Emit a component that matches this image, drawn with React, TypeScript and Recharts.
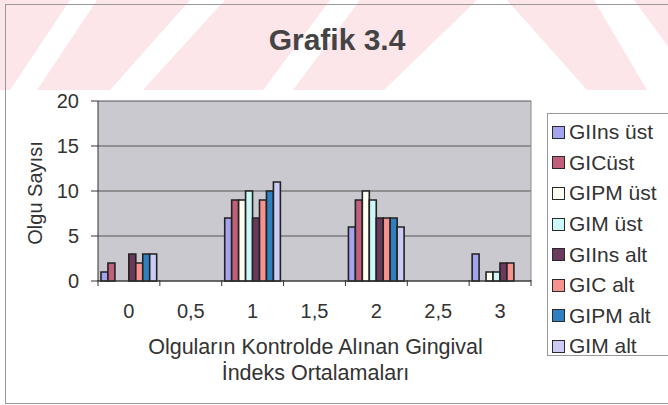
import { BarChart, Bar, XAxis, YAxis, CartesianGrid, Legend, Label, ReferenceLine } from "recharts";

const categories = ["0", "0,5", "1", "1,5", "2", "2,5", "3"];
const seriesNames = ["GIIns üst", "GICüst", "GIPM üst", "GIM üst", "GIIns alt", "GIC alt", "GIPM alt", "GIM alt"];
const giinsUst = [1, 0, 7, 0, 6, 0, 3];
const gicUst = [2, 0, 9, 0, 9, 0, 0];
const gipmUst = [0, 0, 9, 0, 10, 0, 1];
const gimUst = [0, 0, 10, 0, 9, 0, 1];
const giinsAlt = [3, 0, 7, 0, 7, 0, 2];
const gicAlt = [2, 0, 9, 0, 7, 0, 2];
const gipmAlt = [3, 0, 10, 0, 7, 0, 0];
const gimAlt = [3, 0, 11, 0, 6, 0, 0];
const yTicks = [0, 5, 10, 15, 20];
const xTicks = [0, 0.5, 1, 1.5, 2, 2.5, 3, 3.5, 4, 4.5, 5, 5.5, 6, 6.5, 7];

const colors = ["#a3a3ee", "#c0607a", "#fffff2", "#cdf8f8", "#6a3a5c", "#f7928f", "#2f80c0", "#cbcbf5"];
const seriesValues = [giinsUst, gicUst, gipmUst, gimUst, giinsAlt, gicAlt, gipmAlt, gimAlt];

const data = categories.map((label, i) => {
  const row: Record<string, number | string> = { label, pos: i + 0.5 };
  seriesValues.forEach((vals, s) => {
    row["s" + s] = vals[i];
  });
  return row;
});

const FONT = '"Liberation Sans", Arial, sans-serif';
const W = 668;
const H = 405;
const margin = { top: 101, right: 137, bottom: 123, left: 38 };
const plotW = W - margin.left - margin.right;
const barW = plotW / categories.length / seriesNames.length;

// integer positions = category borders (tick marks), half positions = labels
function XTick(props: any) {
  const { x, y, payload } = props;
  const v = payload.value;
  if (Number.isInteger(v)) {
    return <line x1={x} x2={x} y1={y - 1} y2={y + 5} stroke="#333" />;
  }
  return (
    <text x={x} y={y + 37} textAnchor="middle" fontSize={20} fill="#333" fontFamily={FONT}>
      {categories[Math.floor(v)]}
    </text>
  );
}

function XTitle(props: any) {
  const vb = props.viewBox;
  const cx = vb.x + vb.width / 2 + 1;
  return (
    <text x={cx} y={vb.y + 73} textAnchor="middle" fontSize={21.5} fill="#333" fontFamily={FONT}>
      <tspan x={cx}>Olguların Kontrolde Alınan Gingival</tspan>
      <tspan x={cx} dy={26}>İndeks Ortalamaları</tspan>
    </text>
  );
}

function YTitle(props: any) {
  const vb = props.viewBox;
  const cx = vb.x - 3;
  const cy = vb.y + vb.height / 2 + 2;
  return (
    <text
      x={cx}
      y={cy}
      textAnchor="middle"
      dominantBaseline="central"
      fontSize={20}
      fill="#333"
      fontFamily={FONT}
      transform={`rotate(-90, ${cx}, ${cy})`}
    >
      Olgu Sayısı
    </text>
  );
}

function LegendBox() {
  return (
    <div
      style={{
        border: "1px solid #9a9a9a",
        background: "#fff",
        width: 130,
        height: 243,
        boxSizing: "border-box",
        paddingTop: 3,
        fontFamily: FONT,
        fontSize: 21,
        color: "#333",
      }}
    >
      {seriesNames.map((name, i) => (
        <div key={name} style={{ display: "flex", alignItems: "center", height: 30.6, whiteSpace: "nowrap" }}>
          <span
            style={{
              display: "inline-block",
              width: 11,
              height: 11,
              marginLeft: 4,
              marginRight: 4,
              background: colors[i],
              border: "1.5px solid #2a2a2a",
            }}
          />
          {name}
        </div>
      ))}
    </div>
  );
}

export default function App() {
  return (
    <div style={{ position: "absolute", left: 0, top: 0, width: W, height: H, overflow: "hidden", background: "#fff" }}>
      <svg width={W} height={H} style={{ position: "absolute", left: 0, top: 0 }}>
        <rect x={0} y={0} width={W} height={90} fill="#fce6e9" />
        <polygon points="10,90 37,90 97,0 70,0" fill="#fff" />
        <polygon points="110,90 143,90 225,0 190,0" fill="#fff" />
        <polygon points="263,90 293,90 360,0 330,0" fill="#fff" />
        <polygon points="384,90 587,90 507,0 477,0" fill="#fff" />
        <polygon points="647,90 700,90 634,0 594,0" fill="#fff" />
        <line x1={5} y1={4.5} x2={W} y2={4.5} stroke="#999" />
        <line x1={5.5} y1={4} x2={5.5} y2={403} stroke="#999" />
        <line x1={5} y1={403.5} x2={W} y2={403.5} stroke="#999" />
        <text x={337} y={50} textAnchor="middle" fontSize={30} fontWeight="bold" fill="#444" fontFamily={FONT}>
          Grafik 3.4
        </text>
      </svg>
      <div style={{ position: "absolute", left: 0, top: 0 }}>
        <BarChart width={W} height={H} data={data} margin={margin} barGap={0} barCategoryGap={0}>
          <CartesianGrid vertical={false} fill="#c9c9cf" stroke="#555" />
          <XAxis
            xAxisId="num"
            dataKey="pos"
            type="number"
            domain={[0, 7]}
            ticks={xTicks}
            interval={0}
            height={1}
            tickSize={0}
            tickMargin={0}
            tickLine={false}
            axisLine={{ stroke: "#333" }}
            tick={<XTick />}
          >
            <Label content={<XTitle />} />
          </XAxis>
          <XAxis xAxisId="cat" dataKey="label" type="category" hide height={0} />
          <YAxis
            domain={[0, 20]}
            ticks={yTicks}
            width={60}
            tickSize={7}
            tickMargin={12}
            tickLine={{ stroke: "#333" }}
            axisLine={{ stroke: "#333" }}
            tick={{ fontSize: 20, fill: "#333", fontFamily: FONT }}
          >
            <Label content={<YTitle />} />
          </YAxis>
          <ReferenceLine xAxisId="num" x={7} stroke="#8a8a8a" />
          {seriesNames.map((name, i) => (
            <Bar
              key={name}
              xAxisId="cat"
              dataKey={"s" + i}
              name={name}
              fill={colors[i]}
              stroke="#222"
              strokeWidth={1.6}
              barSize={barW}
              isAnimationActive={false}
            />
          ))}
          <Legend
            layout="vertical"
            align="center"
            verticalAlign="middle"
            wrapperStyle={{ left: 547, top: 113, width: 130, height: 243 }}
            content={<LegendBox />}
          />
        </BarChart>
      </div>
    </div>
  );
}
